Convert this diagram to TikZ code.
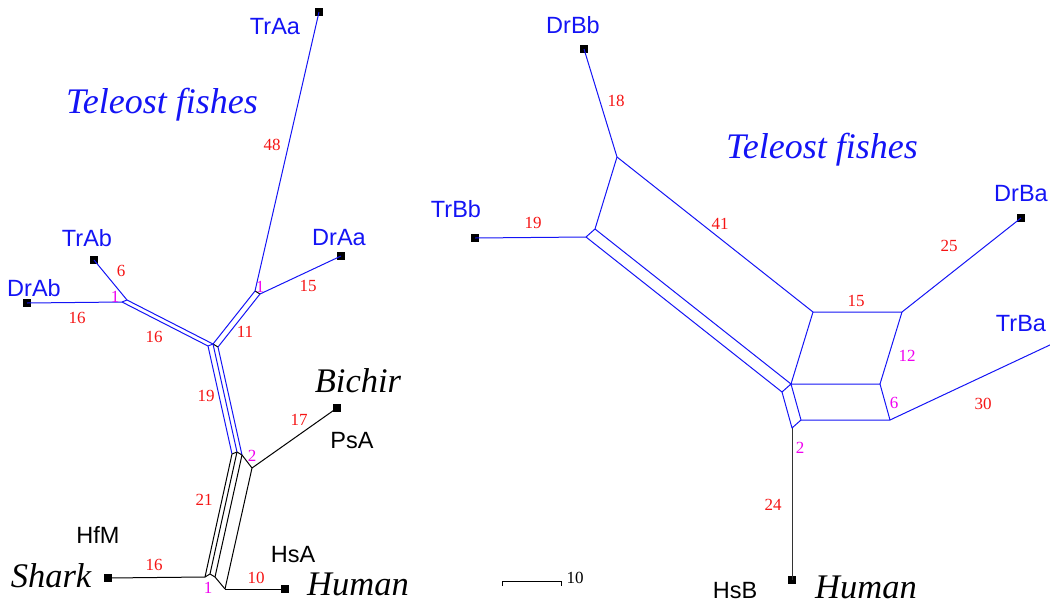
\documentclass[tikz,border=0pt]{standalone}
\usepackage{fontspec}
\setmainfont{Liberation Serif}
\setsansfont{Liberation Sans}
\definecolor{nblue}{RGB}{20,20,245}
\definecolor{nred}{RGB}{245,20,20}
\definecolor{nmag}{RGB}{240,0,240}
\begin{document}
\begin{tikzpicture}[x=1pt,y=-1pt,
  sq/.style={fill=black,minimum size=7.5pt,inner sep=0pt,outer sep=0pt},
  bl/.style={draw=nblue,line width=1pt,line join=round},
  bk/.style={draw=black,line width=1pt,line join=round},
  gk/.style={draw=black!80,line width=1pt},
  taxb/.style={font=\sffamily\fontsize{23.5}{23.5}\selectfont,text=nblue,inner sep=0pt},
  taxk/.style={font=\sffamily\fontsize{23.5}{23.5}\selectfont,text=black,inner sep=0pt},
  grpb/.style={font=\itshape\fontsize{36}{36}\selectfont,text=nblue,inner sep=0pt},
  grpk/.style={font=\itshape\fontsize{34.5}{34.5}\selectfont,text=black,inner sep=0pt},
  wr/.style={font=\fontsize{17}{17}\selectfont,text=nred,inner sep=0pt},
  wm/.style={font=\fontsize{17}{17}\selectfont,text=nmag,inner sep=0pt},
  wk/.style={font=\fontsize{17}{17}\selectfont,text=black,inner sep=0pt}]
\useasboundingbox (0,0) rectangle (1050,605);
% ---------------- left network ----------------
\coordinate (P1) at (255,291);
\coordinate (P2) at (260,294);
\coordinate (Q1) at (213,344);
\coordinate (Q2) at (218,347);
\coordinate (L2) at (127,300);
\coordinate (L1) at (122,302);
\coordinate (Q3) at (208,346);
\coordinate (R3) at (232,454);
\coordinate (R1) at (237,452);
\coordinate (R2) at (242,455);
\coordinate (R4) at (252,468);
\coordinate (T3) at (205,577);
\coordinate (T1) at (210,574);
\coordinate (T2) at (215,577);
\coordinate (T4) at (225,589);
\node[sq] (trAa) at (319,12) {};
\node[sq] (drAa) at (341,256) {};
\node[sq] (trAb) at (94,260) {};
\node[sq] (drAb) at (27,303) {};
\node[sq] (psA) at (337,408) {};
\node[sq] (hfM) at (108,578) {};
\node[sq] (hsA) at (285,589) {};
\draw[bl] (P1) -- (trAa.center);
\draw[bl] (P2) -- (drAa.center);
\draw[bl] (L2) -- (trAb.center);
\draw[bl] (L1) -- (drAb.center);
\draw[bk] (P1) -- (P2);
\draw[bl] (P1) -- (Q1);
\draw[bl] (P2) -- (Q2);
\draw[bk] (Q1) -- (Q2);
\draw[bl] (L1) -- (L2);
\draw[bl] (L1) -- (Q3);
\draw[bl] (L2) -- (Q1);
\draw[bl] (Q3) -- (Q1);
\draw[bl] (Q3) -- (R3);
\draw[bl] (Q1) -- (R1);
\draw[bl] (Q2) -- (R2);
\draw[bk] (R3) -- (R1) -- (R2) -- (R4);
\draw[bk] (R3) -- (T3);
\draw[bk] (R1) -- (T1);
\draw[bk] (R2) -- (T2);
\draw[bk] (R4) -- (T4);
\draw[bk] (T3) -- (T1) -- (T2) -- (T4);
\draw[bk] (R4) -- (psA.center);
\draw[bk] (T3) -- (hfM.center);
\draw[bk] (T4) -- (hsA.center);
% labels left
\node[taxb] (lTrAa) at (275,27) {TrAa};
\node[taxb] (lDrAa) at (339,238) {DrAa};
\node[taxb] (lTrAb) at (87,238) {TrAb};
\node[taxb] (lDrAb) at (34,288) {DrAb};
\node[taxk] (lPsA) at (352,441) {PsA};
\node[taxk] (lHfM) at (98,535) {HfM};
\node[taxk] (lHsA) at (293,555) {HsA};
\node[grpb] (gTel1) at (162,105) {Teleost fishes};
\node[grpk] (gBic) at (358,381) {Bichir};
\node[grpk] (gSha) at (51,576) {Shark};
\node[grpk] (gHum1) at (358,584) {Human};
\node[wr] (n48) at (272,145) {48};
\node[wr] (n15a) at (308,286) {15};
\node[wr] (n11) at (245,332) {11};
\node[wr] (n6a) at (121,271) {6};
\node[wr] (n16a) at (77,318) {16};
\node[wr] (n16b) at (154,337) {16};
\node[wr] (n19a) at (206,396) {19};
\node[wr] (n17) at (299,420) {17};
\node[wr] (n21) at (204,500) {21};
\node[wr] (n16c) at (154,565) {16};
\node[wr] (n10) at (256,578) {10};
\node[wm] (m1a) at (260,287) {1};
\node[wm] (m1b) at (115,297) {1};
\node[wm] (m2a) at (252,456) {2};
\node[wm] (m1c) at (208,588) {1};
% scale bar
\coordinate (sb1) at (502,581);
\coordinate (sb2) at (561,581);
\draw[line width=0.9pt] ([yshift=-5pt]sb1) -- (sb1) -- (sb2) -- ([yshift=-5pt]sb2);
\node[wk] (sbl) at (575,578) {10};
% ---------------- right network ----------------
\coordinate (A) at (617,157);
\coordinate (B) at (595,229);
\coordinate (C) at (586,237);
\coordinate (D) at (813,312);
\coordinate (E) at (902,312);
\coordinate (F) at (791,384);
\coordinate (G) at (880,384);
\coordinate (H) at (782,392);
\coordinate (I) at (801,420);
\coordinate (J) at (890,420);
\coordinate (K) at (792,428);
\coordinate (trBaEnd) at (1052,344);
\node[sq] (drBb) at (584,49) {};
\node[sq] (trBb) at (475,238) {};
\node[sq] (drBa) at (1021,218) {};
\node[sq] (hsB) at (792,580) {};
\draw[bl] (A) -- (drBb.center);
\draw[bl] (C) -- (trBb.center);
\draw[bl] (E) -- (drBa.center);
\draw[bl] (J) -- (trBaEnd);
\draw[gk] (K) -- (hsB.center);
\draw[bl] (A) -- (B) -- (C);
\draw[bl] (A) -- (D);
\draw[bl] (B) -- (F);
\draw[bl] (C) -- (H);
\draw[bl] (D) -- (E) -- (G) -- (F) -- (D);
\draw[bl] (F) -- (H) -- (K) -- (I) -- (F);
\draw[bl] (I) -- (J) -- (G);
\node[taxb] (lDrBb) at (573,25) {DrBb};
\node[taxb] (lTrBb) at (456,209) {TrBb};
\node[taxb] (lDrBa) at (1021,194) {DrBa};
\node[taxb] (lTrBa) at (1021,324) {TrBa};
\node[taxk] (lHsB) at (735,591) {HsB};
\node[grpb] (gTel2) at (822,150) {Teleost fishes};
\node[grpk] (gHum2) at (866,587) {Human};
\node[wr] (n18) at (616,101) {18};
\node[wr] (n19b) at (533,223) {19};
\node[wr] (n41) at (720,224) {41};
\node[wr] (n15b) at (856,301) {15};
\node[wr] (n25) at (949,246) {25};
\node[wr] (n30) at (983,404) {30};
\node[wr] (n24) at (773,505) {24};
\node[wm] (m12) at (907,356) {12};
\node[wm] (m6) at (894,403) {6};
\node[wm] (m2b) at (800,448) {2};
\end{tikzpicture}
\end{document}
